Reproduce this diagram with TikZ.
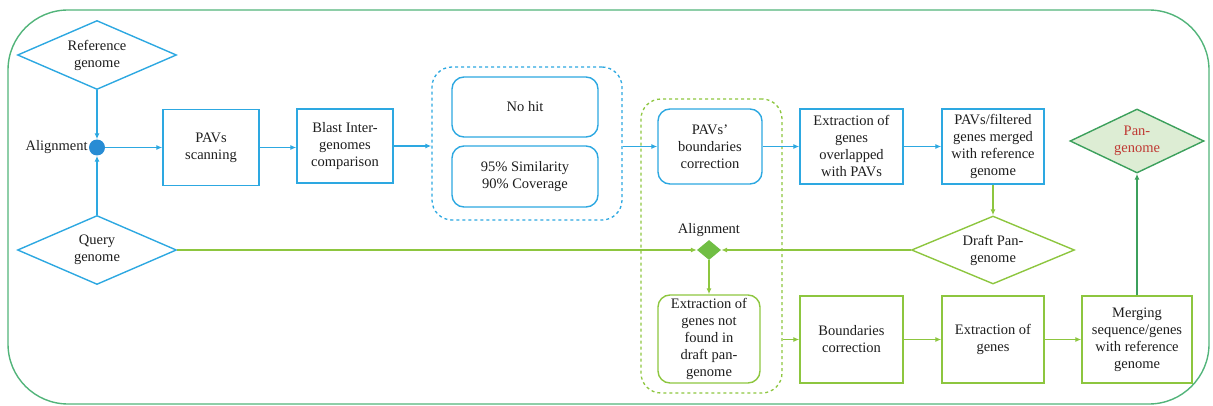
\documentclass[tikz,border=0pt]{standalone}
\usepackage{fontspec}
\setmainfont{Liberation Serif}
\usetikzlibrary{shapes.geometric,arrows.meta}
\definecolor{pavblue}{RGB}{45,168,225}
\definecolor{dotblue}{RGB}{40,140,212}
\definecolor{lgreen}{RGB}{141,198,63}
\definecolor{dgreen}{RGB}{112,190,68}
\definecolor{frame}{RGB}{82,180,122}
\definecolor{pangreen}{RGB}{60,160,92}
\definecolor{panfill}{RGB}{221,237,212}
\definecolor{pantext}{RGB}{192,58,52}
\definecolor{txt}{RGB}{30,30,30}

\begin{document}
\begin{tikzpicture}[x=1pt,y=-1pt,
  every node/.style={text=txt,font=\fontsize{14.5}{17}\selectfont,align=center,inner sep=0pt},
  bbox/.style={draw=pavblue,line width=1.4pt,minimum width=#1},
  gbox/.style={draw=lgreen,line width=1.4pt,minimum width=#1},
  genome/.style={diamond,draw=pavblue,line width=1.4pt,shape aspect=2.3,minimum width=159pt,minimum height=69pt},
  tip/.style={-{Latex[length=6pt,width=5pt]}},
  bline/.style={pavblue,line width=1.4pt,tip},
  gline/.style={lgreen,line width=1.4pt,tip}]
\useasboundingbox (0,0) rectangle (1213,406);
% frame:
\draw[frame,line width=1.4pt,rounded corners=60pt] (8,10) rectangle (1209,404);

% inputs and first alignment:
\node[genome] (ref) at (97,55) {Reference\\genome};
\node[genome] (query) at (97,250) {Query\\genome};
\node[circle,fill=dotblue,minimum size=16pt] (align) at (97,147.5) {};
\node[left=1pt] at (align.west) {Alignment};

% upper row (blue):
\node[bbox=96pt,minimum height=76pt] (scan) at (211,147.5) {PAVs\\scanning};
\node[bbox=96pt,minimum height=74pt] (blast) at (345,146) {Blast Inter-\\genomes\\comparison};
\node[draw=pavblue,line width=1.3pt,dashed,rounded corners=20pt,minimum width=190pt,minimum height=153pt] (blastgrp) at (527,143.5) {};
\node[bbox=146pt,rounded corners=12pt,minimum height=60pt] (nohit) at (525,107) {No hit};
\node[bbox=146pt,rounded corners=12pt,minimum height=61pt] (simcov) at (525,176.5) {95\% Similarity\\90\% Coverage};
\node[draw=lgreen,line width=1.3pt,dashed,rounded corners=20pt,minimum width=141pt,minimum height=294pt] (greengrp) at (711.5,246) {};
\node[bbox=104pt,rounded corners=12pt,minimum height=75pt] (pavbound) at (710,146.5) {PAVs'\\boundaries\\correction};
\node[bbox=103pt,minimum height=75pt] (overlap) at (851.5,146.5) {Extraction of\\genes\\overlapped\\with PAVs};
\node[bbox=102pt,minimum height=75pt] (merged) at (993,146.5) {PAVs/filtered\\genes merged\\with reference\\genome};

% second alignment and lower row (green):
\node[diamond,fill=dgreen,minimum width=24pt,minimum height=20pt] (align2) at (709,250) {};
\node[above=3pt] at (align2.north) {Alignment};
\node[diamond,draw=lgreen,line width=1.4pt,shape aspect=2.4,minimum width=163pt,minimum height=68pt] (draft) at (993,250) {Draft Pan-\\genome};
\node[gbox=102pt,rounded corners=12pt,minimum height=88pt] (notfound) at (709,339) {Extraction of\\genes not\\found in\\draft pan-\\genome};
\node[gbox=103pt,minimum height=87pt] (bcorr) at (851.5,339.5) {Boundaries\\correction};
\node[gbox=102pt,minimum height=87pt] (exgenes) at (993,339.5) {Extraction of\\genes};
\node[gbox=110pt,minimum height=87pt] (mergeseq) at (1137,339.5) {Merging\\sequence/genes\\with reference\\genome};
\node[diamond,draw=pangreen,fill=panfill,line width=1.4pt,shape aspect=2.1,minimum width=134pt,minimum height=64pt,text=pantext] (pangenome) at (1137,141) {Pan-\\genome};

% blue connectors:
\draw[bline] (ref) -- (align);
\draw[bline] (query) -- (align);
\draw[bline] (align) -- (scan);
\draw[bline] (scan.east) -- (scan.east -| blast.west);
\draw[bline] (blast.east) -- (blast.east -| blastgrp.west);
\draw[bline] (blastgrp.east |- pavbound.west) -- (pavbound.west);
\draw[bline] (pavbound) -- (overlap);
\draw[bline] (overlap) -- (merged);
% green connectors:
\draw[gline] (merged) -- (draft);
\draw[gline] (query.east) -- (align2.west);
\draw[gline] (draft.west) -- (align2.east);
\draw[gline] (align2) -- (notfound);
\draw[gline] (greengrp.east |- bcorr.west) -- (bcorr.west);
\draw[gline] (bcorr) -- (exgenes);
\draw[gline] (exgenes) -- (mergeseq);
\draw[gline,pangreen] (mergeseq) -- (pangenome);
\end{tikzpicture}
\end{document}
